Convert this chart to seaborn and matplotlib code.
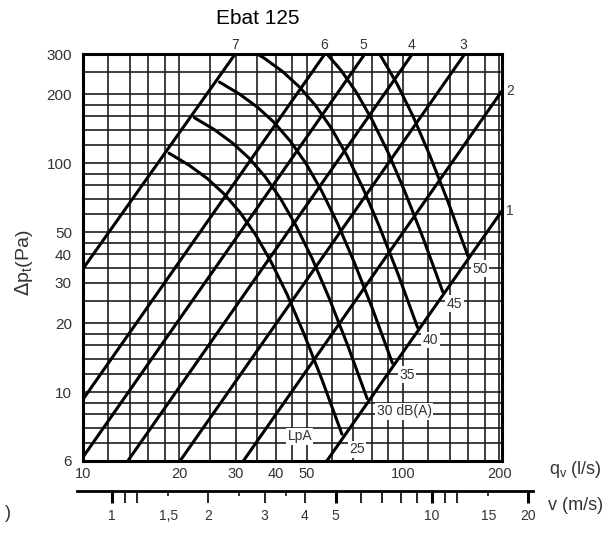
import numpy as np
import pandas as pd
import matplotlib
matplotlib.use("Agg")
import matplotlib.pyplot as plt
from matplotlib.ticker import FixedLocator, NullFormatter
import seaborn as sns

sns.set_theme(style="white")
plt.rcParams["font.family"] = ["Liberation Sans", "DejaVu Sans"]

# damper position lines 1-7 (straight in log-log), end points
line_names = ["1", "2", "3", "4", "5", "6", "7"]
line_q_start = [57.8, 31.7, 20.1, 13.8, 10.0, 10.0, 10.0]
line_dp_start = [5.0, 5.0, 5.0, 5.0, 5.2, 9.3, 34.6]
line_q_end = [204, 204, 156, 107, 76, 57, 29.9]
line_dp_end = [62, 207, 300, 300, 300, 300, 300]

# sound level curves LpA, dB(A)
lpa25_q = [18.57, 21.44, 24.44, 27.58, 30.95, 34.6, 38.7, 43.4, 48.98, 55.83, 64.47]
lpa25_dp = [110.6, 98.1, 85.8, 73.5, 61.0, 48.8, 37.1, 26.8, 18.06, 11.34, 6.55]
lpa30_q = [22.27, 25.71, 29.30, 33.07, 37.11, 41.49, 46.40, 52.04, 58.73, 66.94, 77.30]
lpa30_dp = [158.2, 140.3, 122.7, 105.1, 87.2, 69.8, 53.1, 38.3, 25.83, 16.22, 9.37]
lpa35_q = [26.70, 30.82, 35.13, 39.65, 44.49, 49.74, 55.63, 62.39, 70.41, 80.26, 92.68]
lpa35_dp = [226.2, 200.6, 175.5, 150.3, 124.7, 99.8, 75.9, 54.8, 36.93, 23.19, 13.39]
lpa40_q = [35.04, 36.96, 42.13, 47.54, 53.35, 59.64, 66.71, 74.81, 84.43, 96.24, 111.13]
lpa40_dp = [300, 286.9, 250.9, 214.9, 178.4, 142.7, 108.5, 78.4, 52.81, 33.16, 19.15]
lpa45_q = [57.86, 63.96, 71.51, 79.98, 89.70, 101.23, 115.38, 133.24]
lpa45_dp = [300, 255.1, 204.1, 155.1, 112.1, 75.52, 47.42, 27.39]
lpa50_q = [84.56, 95.90, 107.55, 121.37, 138.35, 159.76]
lpa50_dp = [300, 221.8, 160.3, 108.0, 67.81, 39.17]

# axis ticks and grid
q_ticks = [10, 20, 30, 40, 50, 100, 200]
q_grid = [12, 14, 16, 18, 25, 35, 45, 60, 70, 80, 90, 120, 140, 160, 180]
dp_ticks = [5, 10, 20, 30, 40, 50, 100, 200, 300]
dp_tick_labels = ["6", "10", "20", "30", "40", "50", "100", "200", "300"]
dp_grid = [6, 7, 8, 9, 12, 14, 16, 18, 25, 35, 45, 60, 70, 80, 90, 120, 140, 160, 180, 250]
v_long = [1, 1.1, 1.2, 2, 3, 4, 5, 6, 7, 8, 9, 10, 11, 12, 20]
v_long_labels = ["1", "", "", "2", "3", "4", "5", "", "", "", "", "10", "", "", "20"]
v_short = [1.5, 2.5, 3.5, 15]
v_short_labels = ["1,5", "", "", "15"]

# build long table of all curves
rows = []
for n, q0, p0, q1, p1 in zip(line_names, line_q_start, line_dp_start, line_q_end, line_dp_end):
    rows += [("L" + n, q0, p0), ("L" + n, q1, p1)]
for name, qs, ps in [("25", lpa25_q, lpa25_dp), ("30", lpa30_q, lpa30_dp),
                     ("35", lpa35_q, lpa35_dp), ("40", lpa40_q, lpa40_dp),
                     ("45", lpa45_q, lpa45_dp), ("50", lpa50_q, lpa50_dp)]:
    rows += [("dB" + name, q, p) for q, p in zip(qs, ps)]
df = pd.DataFrame(rows, columns=["curve", "q", "dp"])

W, H = 615, 537
fig = plt.figure(figsize=(W / 100, H / 100), dpi=100)
ax = fig.add_axes([83 / W, (H - 461) / H, (502 - 83) / W, (461 - 54) / H])
ax.set_xscale("log")
ax.set_yscale("log")

sns.lineplot(data=df, x="q", y="dp", units="curve", estimator=None, sort=False,
             color="black", lw=2.2, ax=ax, legend=False)

ax.set_xlim(10, 204)
ax.set_ylim(5, 300)
txt = "#333333"
ax.xaxis.set_major_locator(FixedLocator(q_ticks))
ax.set_xticklabels([str(t) for t in q_ticks], fontsize=10.5, color=txt)
ax.xaxis.set_minor_locator(FixedLocator(q_grid))
ax.xaxis.set_minor_formatter(NullFormatter())
ax.yaxis.set_major_locator(FixedLocator(dp_ticks))
ax.set_yticklabels(dp_tick_labels, fontsize=11, color=txt)
ax.yaxis.set_minor_locator(FixedLocator(dp_grid))
ax.yaxis.set_minor_formatter(NullFormatter())
ax.tick_params(which="both", length=0)
ax.tick_params(axis="x", pad=4)
ax.tick_params(axis="y", pad=8)
ax.grid(which="both", color="#1e1e1e", lw=1.2)
ax.set_xlabel("")
ax.set_ylabel("")
for s in ax.spines.values():
    s.set_visible(True)
    s.set_color("black")
    s.set_linewidth(2.2)

# line number labels
for x, y, s in [(29.9, 330, "7"), (56.6, 330, "6"), (75.1, 330, "5"), (106, 330, "4"),
                (154, 330, "3"), (216, 207, "2"), (216, 62, "1")]:
    ax.text(x, y, s, ha="center", va="center", fontsize=10, color=txt, clip_on=False)

# dB labels
box = dict(facecolor="white", edgecolor="none", pad=1)
for x, y, s in [(47.6, 6.4, "LpA"), (71.8, 5.62, "25"), (101, 8.25, "30 dB(A)"),
                (103, 11.9, "35"), (122, 16.9, "40"), (145, 24.3, "45"), (174, 34.6, "50")]:
    ax.text(x, y, s, ha="center", va="center", fontsize=10, color=txt, bbox=box)

# velocity scale
ax2 = fig.add_axes([77 / W, (H - 491) / H, (533 - 77) / W, 0.0001])
ax2.set_xscale("log")
ax2.set_xlim(0.778, 20.7)
ax2.patch.set_visible(False)
for k in ["top", "left", "right"]:
    ax2.spines[k].set_visible(False)
ax2.spines["bottom"].set_color("black")
ax2.spines["bottom"].set_linewidth(2)
ax2.set_yticks([])
ax2.xaxis.set_major_locator(FixedLocator(v_long))
ax2.set_xticklabels(v_long_labels, fontsize=10, color=txt)
ax2.xaxis.set_minor_locator(FixedLocator(v_short))
ax2.set_xticklabels(v_short_labels, minor=True, fontsize=10, color=txt)
ax2.tick_params(axis="x", which="major", bottom=True, direction="out", length=8.6,
                width=1.2, pad=4.3, color="black")
ax2.tick_params(axis="x", which="minor", bottom=True, direction="out", length=3.6,
                width=1.1, pad=9.3, color="black")
for t, v in zip(ax2.xaxis.get_major_ticks(), v_long):
    if v in (1, 5, 10, 20):
        t.tick1line.set_markeredgewidth(2.2)

# outer texts
fig.text(258 / W, 1 - 18 / H, "Ebat 125", ha="center", va="center", fontsize=15, color="black")
fig.text(24 / W, 1 - 263 / H, r"$\Delta$p$_\mathregular{t}$(Pa)", rotation=90,
         ha="center", va="center", fontsize=14, color=txt)
fig.text(575 / W, 1 - 470 / H, r"q$_\mathregular{v}$ (l/s)", ha="center", va="center",
         fontsize=13, color=txt)
fig.text(576 / W, 1 - 505 / H, "v (m/s)", ha="center", va="center", fontsize=13, color=txt)
fig.text(8 / W, 1 - 513 / H, ")", ha="center", va="center", fontsize=13, color=txt)

fig.savefig("out.png", dpi=100, facecolor="white")
